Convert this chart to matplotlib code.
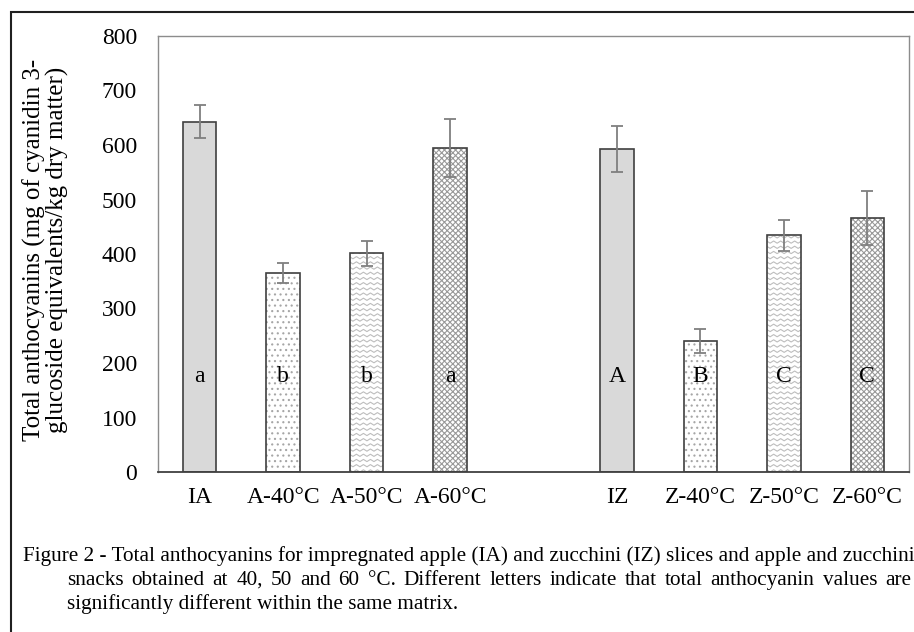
import numpy as np
import matplotlib.pyplot as plt
from matplotlib.patches import Rectangle

# Data
labels = ['IA', 'A-40°C', 'A-50°C', 'A-60°C', '', 'IZ', 'Z-40°C', 'Z-50°C', 'Z-60°C']
values = [643, 365, 401, 595, np.nan, 593, 240, 434, 466]
errors = [30, 18, 23, 53, np.nan, 42, 22, 29, 49]
letters = ['a', 'b', 'b', 'a', '', 'A', 'B', 'C', 'C']
styles = ['solid', 'dots', 'wave', 'check', None, 'solid', 'dots', 'wave', 'check']
letter_y = 175

caption1 = ("Figure 2 - Total anthocyanins for impregnated apple (IA) and zucchini (IZ) "
            "slices and apple and zucchini")
caption2 = ("snacks obtained at 40, 50 and 60 °C. Different letters indicate that total "
            "anthocyanin values are")
caption3 = "significantly different within the same matrix."

plt.rcParams['font.family'] = 'Liberation Serif'
plt.rcParams['hatch.linewidth'] = 0.8

W, H = 914, 632
fig = plt.figure(figsize=(W / 100, H / 100), dpi=100)
ax = fig.add_axes([158 / W, 1 - 472 / H, (909 - 158) / W, (472 - 36) / H])

x = np.arange(len(labels))
bw = 0.4
edge = '#404040'
hatch_col = '#a6a6a6'

for xi, v, st in zip(x, values, styles):
    if st is None:
        continue
    if st == 'solid':
        ax.bar(xi, v, bw, color='#d9d9d9', edgecolor=edge, linewidth=1.2, zorder=2)
        continue
    if st == 'dots':
        ax.bar(xi, v, bw, color='white', edgecolor=hatch_col, hatch='...',
               linewidth=0, zorder=2)
    elif st == 'check':
        ax.bar(xi, v, bw, color='white', edgecolor='#999999', hatch='xxxxxx',
               linewidth=0, zorder=2)
    elif st == 'wave':
        b = ax.bar(xi, v, bw, color='white', linewidth=0, zorder=2)[0]
        # zigzag texture clipped to the bar
        px_x = 1 / 83.4
        px_y = 800 / 436
        zx = np.arange(xi - bw / 2 - 4 * px_x, xi + bw / 2 + 4 * px_x, 3.5 * px_x)
        zz = np.where(np.arange(len(zx)) % 2 == 0, 0, 2.2 * px_y)
        for y0 in np.arange(0, v + 5 * px_y, 5.2 * px_y):
            ln, = ax.plot(zx, y0 + zz, color='#bdbdbd', lw=0.8, zorder=2.5)
            ln.set_clip_path(b)
    ax.bar(xi, v, bw, fill=False, edgecolor=edge, linewidth=1.2, zorder=3)

ax.errorbar(x, values, yerr=errors, fmt='none', ecolor='#7f7f7f', elinewidth=1.3,
            capsize=4.5, capthick=1.3, zorder=4)

for xi, t in zip(x, letters):
    if t:
        ax.text(xi, letter_y, t, ha='center', va='center', fontsize=17, zorder=5)

ax.set_xlim(-0.5, len(labels) - 0.5)
ax.set_ylim(0, 800)
ax.set_yticks(np.arange(0, 801, 100))
ax.set_xticks(x)
ax.set_xticklabels(labels)
ax.tick_params(axis='both', length=0, labelsize=17)
ax.tick_params(axis='y', pad=15)
ax.tick_params(axis='x', pad=11)
for s in ['top', 'right', 'left']:
    ax.spines[s].set_color('#8c8c8c')
    ax.spines[s].set_linewidth(1.0)
ax.spines['bottom'].set_color('#404040')
ax.spines['bottom'].set_linewidth(1.3)

fig.text(46 / W, 1 - 250 / H,
         'Total anthocyanins (mg of cyanidin 3-\nglucoside equivalents/kg dry matter)',
         rotation=90, ha='center', va='center', fontsize=18, linespacing=1.0,
         multialignment='center')

fig.text(23 / W, 1 - 561 / H, caption1, ha='left', va='baseline', fontsize=15.3)
fig.text(67 / W, 1 - 609 / H, caption3, ha='left', va='baseline', fontsize=15.3)

# justified second caption line (word by word)
renderer = fig.canvas.get_renderer()
words = caption2.split(' ')
objs = [fig.text(0, 1 - 585 / H, w, ha='left', va='baseline', fontsize=15.3)
        for w in words]
widths = [o.get_window_extent(renderer).width for o in objs]
left, right = 67, 911
gap = (right - left - sum(widths)) / (len(words) - 1)
pos = left
for o, w in zip(objs, widths):
    o.set_x(pos / W)
    pos += w + gap

# outer frame
fig.add_artist(Rectangle((11 / W, -0.05), 1.1, 1 - 12 / H + 0.05,
                         transform=fig.transFigure, fill=False,
                         edgecolor='#202020', linewidth=1.5, clip_on=False))

fig.savefig('out.png', dpi=100)
